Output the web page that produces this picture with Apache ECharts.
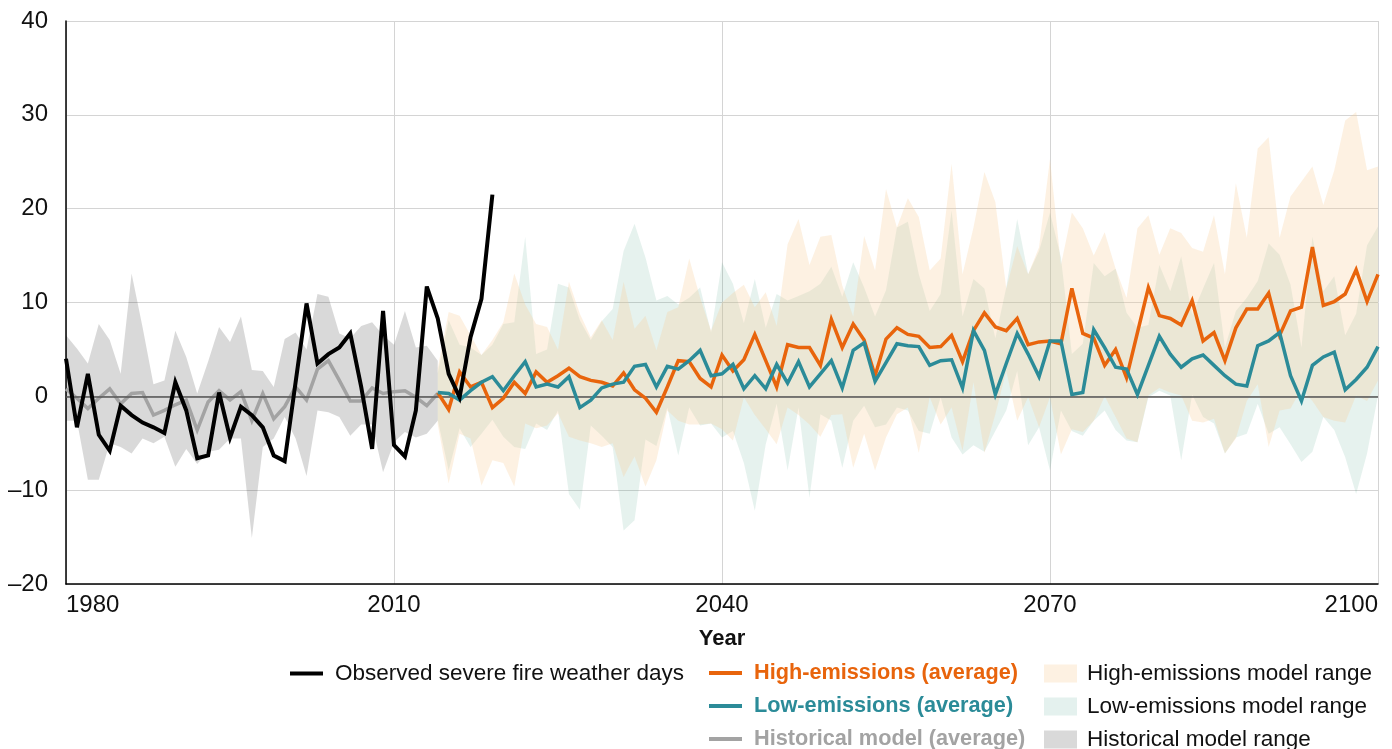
<!DOCTYPE html>
<html>
<head>
<meta charset="utf-8">
<title>Severe fire weather days</title>
<script src="https://cdn.jsdelivr.net/npm/echarts@6/dist/echarts.min.js"></script>
<style>
  html, body { margin: 0; padding: 0; background: #ffffff; }
  #chart { width: 1392px; height: 749px; }
</style>
</head>
<body>
<div id="chart"></div>
<script>
// ---- Data: change in severe fire weather days (relative to baseline) ----
const observedStart = 1980;
const observed = [
  4.0, -3.3, 2.4, -4.1, -5.8, -1.0, -2.0, -2.8, -3.3, -3.9,
  1.5, -1.5, -6.6, -6.3, 0.4, -4.4, -1.1, -2.0, -3.3, -6.3,
  -6.9, 1.5, 9.9, 3.5, 4.5, 5.2, 6.7, 1.0, -5.6, 9.1,
  -5.2, -6.4, -1.5, 11.7, 8.3, 2.4, -0.1, 6.3, 10.4, 21.5
];

const historicalStart = 1980;
const historicalAvg = [
  0.8, -0.2, -1.3, -0.2, 0.8, -0.8, 0.3, 0.4, -2.0, -1.5,
  -0.9, -0.4, -3.6, -0.6, 0.6, -0.4, 0.5, -2.6, 0.3, -2.4,
  -1.1, 1.0, -0.4, 2.9, 3.8, 1.7, -0.5, -0.5, 0.9, 0.3,
  0.5, 0.6, -0.1, -1.0, 0.3
];
const historicalMin = [
  -2.6, -2.6, -8.9, -8.9, -5.0, -5.4, -6.1, -4.5, -5.0, -4.3,
  -7.5, -5.6, -7.2, -5.9, -5.7, -4.5, -4.5, -15.1, -5.4, -4.5,
  -2.2, -4.5, -8.5, -1.5, -1.7, -2.2, -4.2, -3.0, -3.0, -8.1,
  -4.9, -3.8, -4.4, -4.0, -2.6
];
const historicalMax = [
  6.5, 5.1, 3.5, 7.7, 6.0, 2.4, 13.1, 7.4, 1.3, 1.7,
  7.0, 4.2, 0.3, 3.7, 7.4, 5.8, 8.5, 2.8, 2.7, 1.0,
  6.1, 6.8, 5.0, 10.9, 10.6, 6.7, 6.2, 7.5, 7.9, 6.5,
  5.5, 9.1, 5.2, 5.4, 3.8
];

const projectionStart = 2014;
const highAvg = [
  0.4, -1.4, 2.6, 1.0, 1.5, -1.2, -0.2, 1.5, 0.3, 2.6,
  1.5, 2.2, 3.0, 2.1, 1.7, 1.5, 1.1, 2.5, 0.7, -0.2,
  -1.7, 1.0, 3.8, 3.7, 1.9, 1.0, 4.4, 2.7, 3.9, 6.6,
  3.8, 1.0, 5.5, 5.2, 5.2, 3.3, 8.2, 5.2, 7.7, 6.0,
  2.2, 6.1, 7.3, 6.6, 6.4, 5.2, 5.3, 6.5, 3.7, 7.0,
  8.9, 7.4, 7.0, 8.3, 5.5, 5.8, 5.9, 5.6, 11.5, 6.7,
  6.2, 3.3, 5.0, 2.0, 6.8, 11.6, 8.6, 8.3, 7.6, 10.2,
  5.9, 6.8, 3.8, 7.3, 9.3, 9.3, 11.0, 6.5, 9.1, 9.5,
  15.9, 9.7, 10.1, 10.9, 13.5, 10.1, 13.0
];
const highMin = [
  -3.0, -9.3, -4.0, -4.5, -9.5, -6.8, -7.1, -9.6, -2.9, -3.4,
  -3.1, -1.8, -4.3, -4.7, -5.0, -5.4, -5.0, -8.6, -6.4, -9.6,
  -6.8, -1.5, -2.6, -3.0, -3.0, -2.9, -3.5, -4.7, -0.1, -2.0,
  -3.5, -5.1, -1.2, -2.0, -3.0, -4.3, -2.0, -1.9, -7.6, -4.0,
  -7.9, -4.4, -1.9, -1.2, -6.0, -0.1, -3.0, -1.2, -5.8, 1.5,
  -6.0, -1.9, 2.7, -2.6, -0.1, -3.3, -0.1, -6.2, -3.5, -3.8,
  -2.6, 0.0, -2.2, -4.5, -4.9, 0.1, 0.9, 0.4, 0.1, -2.6,
  -2.8, -2.4, -6.1, -4.5, -0.5, 1.3, -5.4, -1.5, -1.3, 0.8,
  -0.5, -2.2, -2.6, -2.8, 0.1, -0.5, 1.7
];
const highMax = [
  3.0, 9.0, 8.6, 6.5, 4.4, 6.0, 7.9, 13.1, 9.8, 7.7,
  7.4, 5.0, 12.2, 8.8, 6.3, 8.1, 6.0, 12.2, 7.2, 8.6,
  4.9, 9.0, 9.5, 14.7, 10.5, 7.0, 10.0, 11.0, 11.9, 9.5,
  11.1, 7.5, 16.2, 18.9, 14.0, 17.0, 17.2, 11.8, 8.5, 17.1,
  13.4, 22.1, 18.0, 21.1, 19.1, 13.4, 14.7, 24.8, 13.0, 18.0,
  23.9, 20.7, 11.5, 16.0, 13.0, 15.9, 25.3, 14.0, 19.6, 17.9,
  15.0, 17.5, 13.6, 10.5, 17.9, 19.3, 15.1, 17.9, 17.4, 15.8,
  15.4, 19.3, 13.0, 22.7, 16.9, 26.4, 27.6, 16.9, 21.3, 22.9,
  24.5, 20.4, 24.1, 29.4, 30.3, 24.1, 24.5
];

const lowAvg = [
  0.4, 0.3, -0.4, 0.6, 1.5, 2.1, 0.6, 2.2, 3.7, 1.0,
  1.3, 1.0, 2.1, -1.2, -0.4, 0.9, 1.3, 1.5, 3.2, 3.4,
  1.0, 3.2, 2.9, 3.8, 4.9, 2.2, 2.4, 3.4, 0.8, 2.2,
  0.8, 3.4, 1.4, 3.7, 1.0, 2.4, 3.8, 0.9, 4.9, 5.7,
  1.6, 3.6, 5.6, 5.4, 5.3, 3.3, 3.8, 3.9, 0.9, 7.0,
  4.9, 0.2, 3.5, 6.7, 4.5, 2.1, 5.9, 5.9, 0.2, 0.4,
  7.1, 5.2, 3.1, 2.9, 0.2, 3.3, 6.4, 4.5, 3.1, 4.0,
  4.4, 3.3, 2.2, 1.3, 1.1, 5.4, 5.9, 6.8, 2.2, -0.5,
  3.3, 4.2, 4.7, 0.7, 1.8, 3.1, 5.3
];
const lowMin = [
  -2.5, -7.9, -3.4, -5.4, -4.0, -2.5, -4.3, -5.4, -5.6, -2.9,
  -3.6, -1.5, -10.4, -12.1, -3.1, -4.2, -5.4, -14.3, -13.2, -4.6,
  -5.3, -1.2, -6.3, -1.2, -3.1, -2.9, -4.4, -3.7, -7.1, -12.2,
  -5.1, -0.8, -7.9, -1.2, -10.8, -1.9, -2.6, -7.6, -2.6, -1.0,
  -3.3, -3.0, -1.2, -1.5, -3.7, -4.0, -0.1, -4.4, -6.2, -5.2,
  -5.9, -3.7, -1.5, 2.7, -5.2, -3.3, -7.9, -1.5, -3.7, -4.2,
  -2.6, -1.5, -3.6, -4.7, -4.9, -0.1, 0.6, 0.1, -6.8, 0.2,
  -2.2, -2.9, -6.1, -4.4, -4.0, -0.8, -4.0, -3.3, -5.1, -7.0,
  -5.9, -2.2, -3.6, -6.5, -10.4, -6.1, 0.1
];
const lowMax = [
  2.5, 8.1, 5.5, 5.2, 4.4, 5.5, 7.7, 7.9, 17.0, 4.5,
  5.0, 12.0, 11.6, 8.1, 6.0, 8.0, 9.3, 15.5, 18.4, 14.8,
  10.2, 10.7, 9.8, 10.5, 11.6, 6.8, 14.3, 12.0, 7.8, 12.5,
  7.3, 10.9, 10.2, 10.7, 11.2, 12.0, 13.8, 10.6, 14.3, 11.6,
  8.5, 11.3, 18.0, 18.6, 13.0, 9.1, 10.9, 19.8, 8.5, 12.5,
  11.5, 6.2, 11.6, 18.9, 13.0, 15.5, 19.6, 14.8, 4.5, 5.6,
  14.2, 12.8, 13.6, 8.9, 7.3, 7.6, 14.0, 11.2, 14.9, 8.7,
  11.5, 14.2, 5.2, 9.1, 10.5, 12.3, 16.3, 15.1, 11.9, 5.2,
  17.0, 11.2, 12.8, 6.5, 8.8, 16.1, 18.1
];

const xTickYears = [1980, 2010, 2040, 2070, 2100];
const yTickValues = [-20, -10, 0, 10, 20, 30, 40];

// ---- Helpers ----
const toPairs = (start, values) => values.map((v, i) => [start + i, v]);

const C = {
  black: '#000000',
  orange: '#e8640c',
  teal: '#2b8b98',
  grey: '#a3a3a3',
  greyBand: 'rgba(0,0,0,0.15)',
  tealBand: 'rgba(47,147,113,0.12)',
  peachBand: 'rgba(248,205,151,0.28)',
  greySwatch: '#d9d9d9',
  tealSwatch: '#e4f1ee',
  peachSwatch: '#fdf1e2'
};

const FONT = 'Liberation Sans, Arial, sans-serif';

// Model range: one filled polygon running along the upper edge and back along the lower edge
function band(name, start, lo, hi, fill, z) {
  return {
    name: name,
    type: 'custom',
    silent: true,
    z: z,
    data: lo.map((v, i) => [start + i, v, hi[i]]),
    encode: { x: 0, y: [1, 2] },
    itemStyle: { color: fill },
    renderItem: function (params, api) {
      if (params.dataIndex !== 0) return null;
      const top = hi.map((v, i) => api.coord([start + i, v]));
      const bottom = lo.map((v, i) => api.coord([start + i, v])).reverse();
      return {
        type: 'polygon',
        shape: { points: top.concat(bottom) },
        style: { fill: fill, stroke: null }
      };
    }
  };
}

function avgLine(name, start, values, color, width, z) {
  return {
    name: name, type: 'line', data: toPairs(start, values),
    symbol: 'none', silent: true, z: z,
    itemStyle: { color: color },
    lineStyle: { color: color, width: width, join: 'miter', miterLimit: 4 }
  };
}

const series = [
  band('Historical model range', historicalStart, historicalMin, historicalMax, C.greyBand, 1),
  band('Low-emissions model range', projectionStart, lowMin, lowMax, C.tealBand, 2),
  band('High-emissions model range', projectionStart, highMin, highMax, C.peachBand, 3),
  Object.assign(avgLine('Historical model (average)', historicalStart, historicalAvg, C.grey, 3.5, 4), {
    markLine: {
      silent: true, symbol: 'none', animation: false,
      label: { show: false },
      lineStyle: { color: '#555555', width: 1.5, type: 'solid' },
      data: [{ yAxis: 0 }]
    }
  }),
  avgLine('High-emissions (average)', projectionStart, highAvg, C.orange, 3.5, 5),
  avgLine('Low-emissions (average)', projectionStart, lowAvg, C.teal, 3.5, 6),
  avgLine('Observed severe fire weather days', observedStart, observed, C.black, 4, 7)
];

// One legend block per row so every entry sits exactly where it belongs
const rowTop = [662, 695, 728];
const textBase = { fontFamily: FONT, fontSize: 22.5, lineHeight: 22, color: '#111111' };

function lineKey(name, color, left, row, bold) {
  return {
    left: left, top: rowTop[row], padding: 0,
    itemWidth: 33, itemHeight: 4, itemGap: 0, icon: 'rect', selectedMode: false,
    textStyle: Object.assign({}, textBase, { padding: [0, 0, 0, 7] },
      bold ? { color: color, fontWeight: 'bold', fontSize: 21.7 } : {}),
    data: [{ name: name, itemStyle: { color: color } }]
  };
}
function swatchKey(name, color, row) {
  return {
    left: 1044, top: rowTop[row], padding: 0,
    itemWidth: 33, itemHeight: 18, itemGap: 0, icon: 'rect', selectedMode: false,
    textStyle: Object.assign({}, textBase, { padding: [0, 0, 0, 5] }),
    data: [{ name: name, itemStyle: { color: color } }]
  };
}

const option = {
  animation: false,
  backgroundColor: '#ffffff',
  grid: { left: 66, right: 14, top: 21, bottom: 165, containLabel: false },
  xAxis: {
    type: 'value',
    min: xTickYears[0],
    max: xTickYears[xTickYears.length - 1],
    interval: xTickYears[1] - xTickYears[0],
    name: 'Year',
    nameLocation: 'middle',
    nameGap: 44,
    nameTextStyle: { fontFamily: FONT, fontSize: 22, fontWeight: 'bold', color: '#111111' },
    axisLine: { show: true, onZero: false, lineStyle: { color: '#000000', width: 1.5 } },
    axisTick: { show: false },
    axisLabel: {
      fontFamily: FONT, fontSize: 24, color: '#111111', margin: 9,
      alignMinLabel: 'left', alignMaxLabel: 'right',
      formatter: v => String(v)
    },
    splitLine: { show: true, lineStyle: { color: '#d4d4d4', width: 1 } }
  },
  yAxis: {
    type: 'value',
    min: yTickValues[0],
    max: yTickValues[yTickValues.length - 1],
    interval: yTickValues[1] - yTickValues[0],
    axisLine: { show: true, lineStyle: { color: '#000000', width: 1.5 } },
    axisTick: { show: false },
    axisLabel: {
      fontFamily: FONT, fontSize: 24, color: '#111111', margin: 18,
      formatter: v => String(v).replace('-', '\u2013')
    },
    splitLine: { show: true, lineStyle: { color: '#d4d4d4', width: 1 } }
  },
  legend: [
    lineKey('Observed severe fire weather days', C.black, 290, 0, false),
    lineKey('High-emissions (average)', C.orange, 709, 0, true),
    lineKey('Low-emissions (average)', C.teal, 709, 1, true),
    lineKey('Historical model (average)', C.grey, 709, 2, true),
    swatchKey('High-emissions model range', C.peachSwatch, 0),
    swatchKey('Low-emissions model range', C.tealSwatch, 1),
    swatchKey('Historical model range', C.greySwatch, 2)
  ],
  series: series
};

const chart = echarts.init(document.getElementById('chart'), null, { renderer: 'canvas' });
chart.setOption(option);
</script>
</body>
</html>
